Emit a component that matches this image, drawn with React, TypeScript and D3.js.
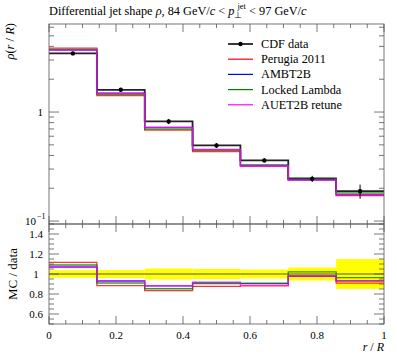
import React from 'react';
import * as d3 from 'd3';

// bin edges in r/R (R = 0.7, dr = 0.1)
const edges = [0, 1 / 7, 2 / 7, 3 / 7, 4 / 7, 5 / 7, 6 / 7, 1];

const cdfData = [3.45, 1.6, 0.82, 0.494, 0.36, 0.244, 0.188];
const cdfErr = [0.128, 0.064, 0.045, 0.025, 0.016, 0.016, 0.028];

const perugia = [3.85, 1.413, 0.683, 0.433, 0.317, 0.239, 0.171];
const ambt2b = [3.69, 1.488, 0.722, 0.45, 0.326, 0.239, 0.175];
const locked = [3.76, 1.456, 0.699, 0.447, 0.326, 0.249, 0.181];
const auet2b = [3.7, 1.493, 0.722, 0.454, 0.32, 0.239, 0.175];

const series = [
  { name: 'Perugia 2011', color: '#ff0000', vals: perugia },
  { name: 'AMBT2B', color: '#0000ff', vals: ambt2b },
  { name: 'Locked Lambda', color: '#008000', vals: locked },
  { name: 'AUET2B retune', color: '#ff00ff', vals: auet2b },
];

const xTicks = [0, 0.2, 0.4, 0.6, 0.8, 1];
const ratioTicks = [0.6, 0.8, 1, 1.2, 1.4];

const W = 397, H = 358;
const L = 49, R = 384;
const mainTop = 24, mainBot = 224;
const ratTop = 224, ratBot = 324;
const font = "'Liberation Serif', 'Times New Roman', serif";

const x = d3.scaleLinear().domain([0, 1]).range([L, R]);
const y = d3.scaleLog().domain([0.094, 6.42]).range([mainBot, mainTop]);
const yr = d3.scaleLinear().domain([0.5, 1.5]).range([ratBot, ratTop]);

function stepPath(vals: number[], ys: (v: number) => number) {
  const p = d3.path();
  vals.forEach((v, i) => {
    if (i === 0) p.moveTo(x(edges[0]), ys(v));
    else p.lineTo(x(edges[i]), ys(v));
    p.lineTo(x(edges[i + 1]), ys(v));
  });
  return p.toString();
}

function Frame({ top, bot, yTicks }: { top: number; bot: number; yTicks: { v: number; major: boolean; yy: number }[] }) {
  const xt = d3.range(0, 1.0001, 0.05);
  return (
    <g stroke="#555" strokeWidth={0.8} fill="none">
      <rect x={L} y={top} width={R - L} height={bot - top} />
      {xt.map((t, i) => {
        const major = i % 4 === 0;
        const len = major ? 8 : 4;
        return (
          <g key={i}>
            <line x1={x(t)} x2={x(t)} y1={bot} y2={bot - len} />
            <line x1={x(t)} x2={x(t)} y1={top} y2={top + len} />
          </g>
        );
      })}
      {yTicks.map((t, i) => {
        const len = t.major ? 10 : 5;
        return (
          <g key={'y' + i}>
            <line x1={L} x2={L + len} y1={t.yy} y2={t.yy} />
            <line x1={R} x2={R - len} y1={t.yy} y2={t.yy} />
          </g>
        );
      })}
    </g>
  );
}

export default function App() {
  const logTicks: any[] = [];
  [0.1, 1].forEach((dec) => {
    for (let k = 1; k <= 9; k++) {
      const v = dec * k;
      if (v >= 0.094 && v <= 6.42) logTicks.push({ v, major: k === 1, yy: y(v) });
    }
  });
  const rTicks: any[] = d3.range(0.5, 1.5001, 0.05).map((v, i) => ({ v, major: i % 4 === 2, yy: yr(v) }));

  const centers = edges.slice(0, -1).map((e, i) => (e + edges[i + 1]) / 2);

  return (
    <svg width={W} height={H} style={{ position: 'absolute', left: 0, top: 0, fontFamily: font }}>
      <rect width={W} height={H} fill="white" />
      {/* title */}
      <text x={L} y={15} fontSize={12.3} fill="#000">
        Differential jet shape <tspan fontStyle="italic">ρ</tspan>, 84 GeV/<tspan fontStyle="italic">c</tspan> &lt; <tspan fontStyle="italic">p</tspan>
        <tspan fontSize={8.5} dy={3}>⊥</tspan>
        <tspan fontSize={8.5} dx={-5} dy={-9}>jet</tspan>
        <tspan dy={6}> &lt; 97 GeV/</tspan>
        <tspan fontStyle="italic">c</tspan>
      </text>

      {/* main panel */}
      <path d={stepPath(cdfData, y)} fill="none" stroke="#222" strokeWidth={1.8} />
      {series.map((s) => (
        <path key={s.name} d={stepPath(s.vals, y)} fill="none" stroke={s.color} strokeWidth={1.3} strokeOpacity={0.8} />
      ))}
      {cdfData.map((v, i) => (
        <g key={i}>
          <line x1={x(centers[i])} x2={x(centers[i])} y1={y(v - cdfErr[i])} y2={y(v + cdfErr[i])} stroke="#000" strokeWidth={1} />
          <circle cx={x(centers[i])} cy={y(v)} r={2.2} fill="#000" />
        </g>
      ))}
      <Frame top={mainTop} bot={mainBot} yTicks={logTicks} />
      <text x={43} y={116} fontSize={11} textAnchor="end">1</text>
      <text x={36} y={225} fontSize={11} textAnchor="end">10</text>
      <text x={37} y={219} fontSize={8}>−1</text>
      <text transform="translate(14,23) rotate(-90)" fontSize={12.5} textAnchor="end">
        <tspan fontStyle="italic">ρ</tspan>(<tspan fontStyle="italic">r</tspan> / <tspan fontStyle="italic">R</tspan>)
      </text>

      {/* legend */}
      {[{ name: 'CDF data', color: '#222' }, ...series].map((s, i) => {
        const ly = 44 + i * 15.2;
        return (
          <g key={s.name}>
            <line x1={228} x2={253} y1={ly} y2={ly} stroke={s.color} strokeWidth={i === 0 ? 1.8 : 1.2} />
            {i === 0 && <circle cx={240.5} cy={ly} r={2.2} fill="#000" />}
            <text x={261} y={ly + 4} fontSize={12.3}>{s.name}</text>
          </g>
        );
      })}

      {/* ratio panel */}
      {cdfData.map((v, i) => (
        <rect key={i} x={x(edges[i])} width={x(edges[i + 1]) - x(edges[i])} y={yr(1 + cdfErr[i] / v)} height={yr(1 - cdfErr[i] / v) - yr(1 + cdfErr[i] / v)} fill="#ffff00" />
      ))}
      <line x1={L} x2={R} y1={yr(1)} y2={yr(1)} stroke="#555" strokeWidth={1} />
      {series.map((s) => (
        <path key={s.name} d={stepPath(s.vals.map((v, i) => v / cdfData[i]), yr)} fill="none" stroke={s.color} strokeWidth={1.3} strokeOpacity={0.8} />
      ))}
      <Frame top={ratTop} bot={ratBot} yTicks={rTicks} />
      {ratioTicks.map((t) => (
        <text key={t} x={45} y={yr(t) + 4} fontSize={11} textAnchor="middle" dx={-9}>{t}</text>
      ))}
      {xTicks.map((t) => (
        <text key={t} x={x(t)} y={339} fontSize={11} textAnchor="middle">{t}</text>
      ))}
      <text x={R} y={351} fontSize={12} textAnchor="end">
        <tspan fontStyle="italic">r</tspan> / <tspan fontStyle="italic">R</tspan>
      </text>
      <text transform={`translate(17,${yr(1)}) rotate(-90)`} fontSize={13} textAnchor="middle">MC / data</text>
    </svg>
  );
}
